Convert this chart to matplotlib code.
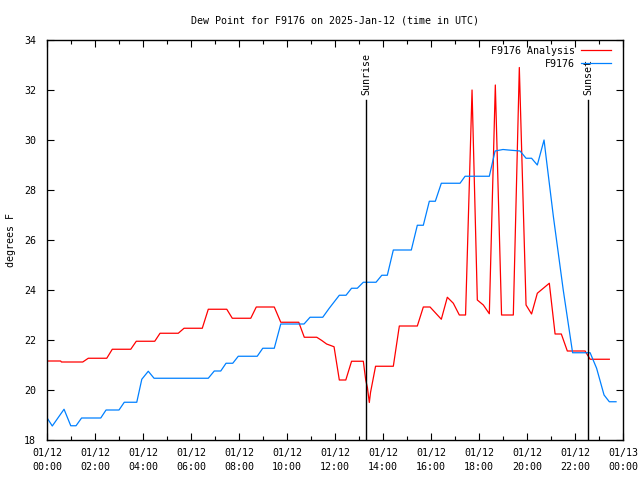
import matplotlib
matplotlib.use("Agg")
import matplotlib.pyplot as plt
from matplotlib.ticker import MultipleLocator, FixedLocator

# ---- data (hours since 2025-01-12 00:00 UTC, dew point F) ----
analysis_hours = [0.0, 0.57, 0.6, 1.49, 1.72, 2.49, 2.72, 3.49, 3.72, 4.49, 4.71, 5.47, 5.71,
                  6.47, 6.72, 7.49, 7.72, 8.49, 8.72, 9.47, 9.74, 10.49, 10.72, 11.24, 11.45,
                  11.65, 11.96, 12.18, 12.45, 12.69, 13.18, 13.28, 13.35, 13.43, 13.48, 13.69,
                  14.43, 14.68, 15.43, 15.68, 15.96, 16.43, 16.68, 16.93, 17.18, 17.44,
                  17.71, 17.93, 18.18, 18.43, 18.68, 18.94, 19.43, 19.68, 19.96, 20.19,
                  20.43, 20.93, 21.17, 21.43, 21.68, 22.42, 22.63, 23.43]
analysis_vals = [21.16, 21.16, 21.12, 21.12, 21.27, 21.27, 21.63, 21.63, 21.95, 21.95, 22.27, 22.27, 22.47,
                 22.47, 23.23, 23.23, 22.87, 22.87, 23.32, 23.32, 22.71, 22.71, 22.11, 22.11, 21.98,
                 21.84, 21.73, 20.4, 20.4, 21.15, 21.15, 20.4, 20.1, 19.5, 19.9, 20.95,
                 20.95, 22.56, 22.56, 23.32, 23.32, 22.83, 23.71, 23.47, 23.0, 23.0,
                 32.0, 23.6, 23.4, 23.05, 32.2, 23.0, 23.0, 32.9, 23.4, 23.04,
                 23.87, 24.27, 22.24, 22.24, 21.56, 21.56, 21.23, 21.23]

station_hours = [0.0, 0.22, 0.71, 0.99, 1.21, 1.44, 2.24, 2.46, 3.0, 3.22, 3.74, 3.95, 4.22, 4.46,
                 6.72, 6.97, 7.24, 7.46, 7.74, 7.97, 8.76, 8.99, 9.47, 9.74, 10.71, 10.96,
                 11.49, 11.76, 12.18, 12.46, 12.69, 12.93, 13.18, 13.71, 13.95, 14.18, 14.43,
                 15.18, 15.43, 15.68, 15.93, 16.18, 16.43, 17.21, 17.42, 18.43, 18.67, 19.0,
                 19.22, 19.71, 19.96, 20.19, 20.43, 20.71, 20.79, 21.1, 21.51, 21.9, 22.63,
                 22.9, 23.21, 23.43, 23.71]
station_vals = [18.89, 18.56, 19.23, 18.57, 18.57, 18.88, 18.88, 19.2, 19.2, 19.51, 19.51, 20.43, 20.75, 20.47,
                20.47, 20.76, 20.76, 21.07, 21.07, 21.35, 21.35, 21.67, 21.67, 22.64, 22.64, 22.91,
                22.91, 23.27, 23.79, 23.79, 24.07, 24.07, 24.31, 24.31, 24.59, 24.59, 25.6,
                25.6, 26.59, 26.59, 27.55, 27.55, 28.27, 28.27, 28.55, 28.55, 29.56, 29.62,
                29.6, 29.56, 29.27, 29.27, 29.0, 30.0, 29.36, 26.93, 24.0, 21.49, 21.49,
                20.87, 19.8, 19.53, 19.53]

sunrise_hour = 13.29
sunset_hour = 22.54
x_tick_labels = ["01/12\n00:00", "01/12\n02:00", "01/12\n04:00", "01/12\n06:00", "01/12\n08:00",
                 "01/12\n10:00", "01/12\n12:00", "01/12\n14:00", "01/12\n16:00", "01/12\n18:00",
                 "01/12\n20:00", "01/12\n22:00", "01/13\n00:00"]

FONT = "DejaVu Sans Mono"
FS = 7.2

fig = plt.figure(figsize=(6.4, 4.8), dpi=100)
ax = fig.add_axes([47/640, 40/480, 576/640, 400/480])

ax.plot(analysis_hours, analysis_vals, color="#ff0000", lw=0.9, label="F9176 Analysis")
ax.plot(station_hours, station_vals, color="#0080ff", lw=0.9, label="F9176")

for h, name in [(sunrise_hour, "Sunrise"), (sunset_hour, "Sunset")]:
    ax.plot([h, h], [18, 31.6], color="black", lw=1.0)
    ax.text(h, 31.8, name, rotation=90, ha="center", va="bottom",
            fontfamily=FONT, fontsize=FS)

ax.set_xlim(0, 24)
ax.set_ylim(18, 34)
ax.xaxis.set_major_locator(FixedLocator(list(range(0, 25, 2))))
ax.xaxis.set_minor_locator(MultipleLocator(1))
ax.set_xticklabels(x_tick_labels, fontfamily=FONT, fontsize=FS, linespacing=1.5)
ax.set_yticks(range(18, 35, 2))
ax.set_yticklabels([str(v) for v in range(18, 35, 2)], fontfamily=FONT, fontsize=FS)
ax.tick_params(axis="both", which="major", direction="in", length=5, width=0.8,
               top=True, right=True, pad=6)
ax.tick_params(axis="y", which="major", pad=8)
ax.tick_params(axis="x", which="minor", direction="in", length=3, width=0.8, top=True)
for s in ax.spines.values():
    s.set_linewidth(1.0)

ax.set_title("Dew Point for F9176 on 2025-Jan-12 (time in UTC)", fontfamily=FONT,
             fontsize=FS, pad=12)
fig.text(11/640, 0.5, "degrees F", rotation=90, ha="center", va="center",
         fontfamily=FONT, fontsize=FS)

leg = ax.legend(loc="upper right", frameon=False, prop={"family": FONT, "size": FS},
                markerfirst=False, handlelength=3.0, handletextpad=0.6,
                borderaxespad=0.2, labelspacing=0.3, bbox_to_anchor=(0.99, 1.0))
for t in leg.get_texts():
    t.set_ha("right")

fig.savefig("out.png", dpi=100)
